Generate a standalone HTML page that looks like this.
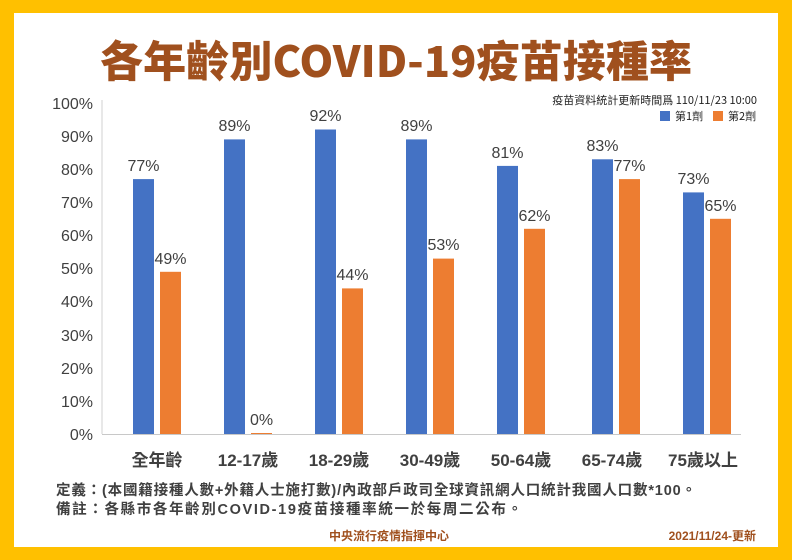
<!DOCTYPE html>
<html><head><meta charset="utf-8"><style>
body{margin:0;width:792px;height:560px;background:#FFC000;font-family:"Liberation Sans","Noto Sans CJK TC",sans-serif;}
</style></head><body>
<svg width="792" height="560" xmlns="http://www.w3.org/2000/svg" style="position:absolute;left:0;top:0">
<rect x="0" y="0" width="792" height="560" fill="#FFC000"/>
<rect x="14" y="13" width="764" height="534" fill="#fff"/>
<text x="396" y="77" text-anchor="middle" font-family="Noto Sans CJK TC, sans-serif" font-weight="900" font-size="43" fill="#A0501E" textLength="592">各年齡別COVID-19疫苗接種率</text>
<text x="757" y="104" text-anchor="end" font-family="Noto Sans CJK TC, sans-serif" font-size="11" fill="#222">疫苗資料統計更新時間爲 110/11/23 10:00</text>
<rect x="660" y="111" width="10" height="10" fill="#4472C4"/>
<text x="675" y="120" font-family="Noto Sans CJK TC, sans-serif" font-size="11" fill="#222">第1劑</text>
<rect x="713" y="111" width="10" height="10" fill="#ED7D31"/>
<text x="728" y="120" font-family="Noto Sans CJK TC, sans-serif" font-size="11" fill="#222">第2劑</text>
<line x1="102" y1="100" x2="102" y2="434" stroke="#d0d0d0"/>
<line x1="102" y1="434.5" x2="741" y2="434.5" stroke="#c8c8c8"/>
<g font-size="16" fill="#404040" text-anchor="end">
<text x="93" y="440">0%</text><text x="93" y="407">10%</text><text x="93" y="374">20%</text><text x="93" y="341">30%</text><text x="93" y="307">40%</text><text x="93" y="274">50%</text><text x="93" y="241">60%</text><text x="93" y="208">70%</text><text x="93" y="175">80%</text><text x="93" y="142">90%</text><text x="93" y="109">100%</text>
</g>
<g font-size="16" fill="#404040" text-anchor="middle">
<rect x="133" y="179.1" width="21" height="254.9" fill="#4472C4"/><text x="143.5" y="171">77%</text>
<rect x="160" y="271.8" width="21" height="162.2" fill="#ED7D31"/><text x="170.5" y="264">49%</text>
<rect x="224" y="139.4" width="21" height="294.6" fill="#4472C4"/><text x="234.5" y="131">89%</text>
<rect x="251" y="433" width="21" height="1" fill="#ED7D31"/><text x="261.5" y="425">0%</text>
<rect x="315" y="129.5" width="21" height="304.5" fill="#4472C4"/><text x="325.5" y="121">92%</text>
<rect x="342" y="288.4" width="21" height="145.6" fill="#ED7D31"/><text x="352.5" y="280">44%</text>
<rect x="406" y="139.4" width="21" height="294.6" fill="#4472C4"/><text x="416.5" y="131">89%</text>
<rect x="433" y="258.6" width="21" height="175.4" fill="#ED7D31"/><text x="443.5" y="250">53%</text>
<rect x="497" y="165.9" width="21" height="268.1" fill="#4472C4"/><text x="507.5" y="158">81%</text>
<rect x="524" y="228.8" width="21" height="205.2" fill="#ED7D31"/><text x="534.5" y="221">62%</text>
<rect x="592" y="159.3" width="21" height="274.7" fill="#4472C4"/><text x="602.5" y="151">83%</text>
<rect x="619" y="179.1" width="21" height="254.9" fill="#ED7D31"/><text x="629.5" y="171">77%</text>
<rect x="683" y="192.4" width="21" height="241.6" fill="#4472C4"/><text x="693.5" y="184">73%</text>
<rect x="710" y="218.8" width="21" height="215.2" fill="#ED7D31"/><text x="720.5" y="211">65%</text>
</g>
<g font-size="17" font-weight="bold" fill="#404040" text-anchor="middle" font-family="Liberation Sans, Noto Sans CJK TC, sans-serif">
<text x="157" y="466">全年齡</text><text x="248" y="466">12-17歲</text><text x="339" y="466">18-29歲</text><text x="430" y="466">30-49歲</text><text x="521" y="466">50-64歲</text><text x="612" y="466">65-74歲</text><text x="703" y="466">75歲以上</text>
</g>
<g font-size="14.5" font-weight="bold" fill="#404040" font-family="Liberation Sans, Noto Sans CJK TC, sans-serif">
<text x="56" y="495" textLength="640">定義：(本國籍接種人數+外籍人士施打數)/內政部戶政司全球資訊網人口統計我國人口數*100。</text>
<text x="56" y="514" textLength="466">備註：各縣市各年齡別COVID-19疫苗接種率統一於每周二公布。</text>
</g>
<text x="389" y="540" text-anchor="middle" font-size="12" font-weight="bold" fill="#A0501E" font-family="Noto Sans CJK TC, sans-serif">中央流行疫情指揮中心</text>
<text x="756" y="540" text-anchor="end" font-size="12" font-weight="bold" fill="#A0501E" font-family="Liberation Sans, Noto Sans CJK TC, sans-serif">2021/11/24-更新</text>
</svg>
</body></html>
